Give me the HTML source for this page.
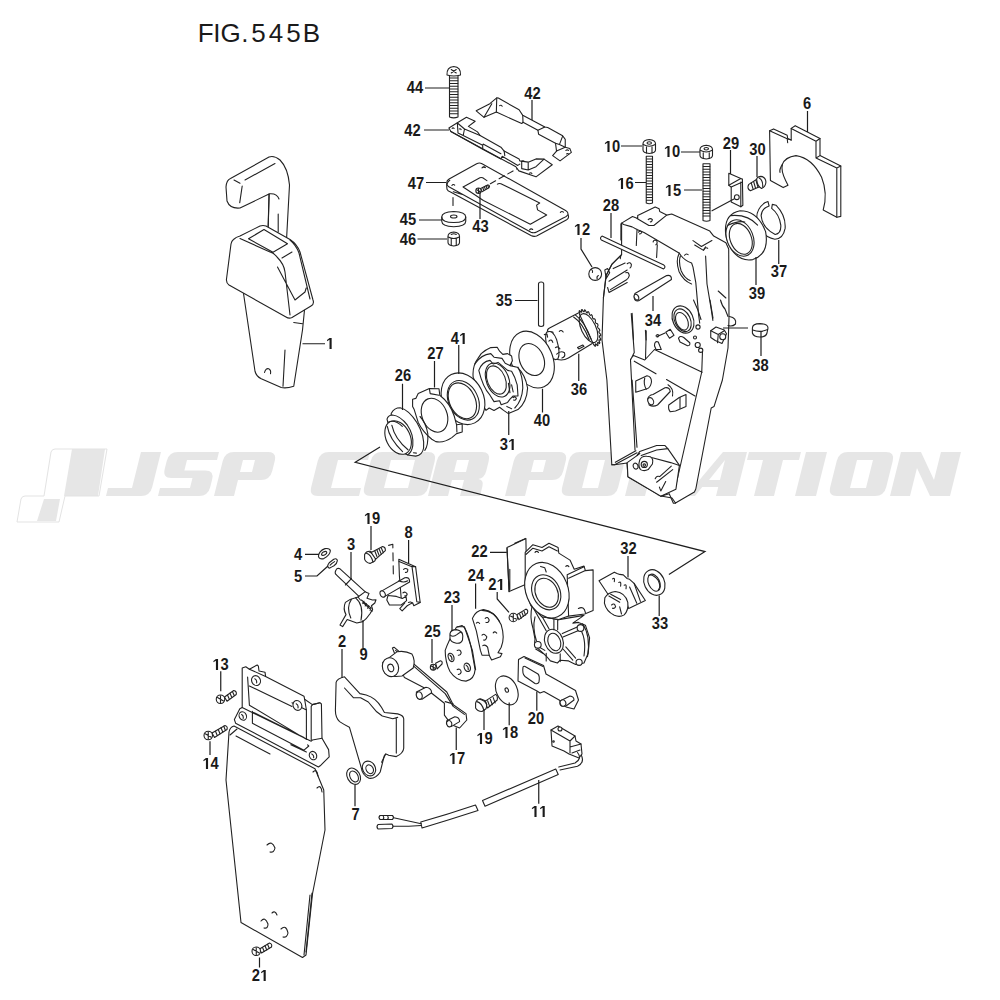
<!DOCTYPE html>
<html><head><meta charset="utf-8"><style>
html,body{margin:0;padding:0;background:#fff;width:1000px;height:1000px;overflow:hidden}
svg{display:block}
.d path,.d ellipse,.d circle,.d polyline,.d rect,.d line,.ln{vector-effect:non-scaling-stroke}
.d{fill:#fff;stroke:#222;stroke-width:1.1;stroke-linejoin:round;stroke-linecap:round}
.d .nf{fill:none}
.ln{fill:none;stroke:#1e1e1e;stroke-width:1.2}
.lbl path{fill:#1a1a1a;stroke:none}
.lbl text{font-family:"Liberation Sans",sans-serif;font-weight:bold;font-size:16px;fill:#1a1a1a;text-anchor:start}
.title{font-family:"Liberation Sans",sans-serif;font-size:26px;fill:#1a1a1a;}
</style></head><body>
<svg width="1000" height="1000" viewBox="0 0 1000 1000">
<text class="title" x="197.8 213.2 220.5 241.2 251.3 268.8 286.3 302.8" y="42">FIG.545B</text>
<g class="wm" fill="#e6e6e6" fill-rule="evenodd">
<path fill="#e6e6e6" d="M72,449 H105 L98,496 H64 Z M44,499 H60 L56,521 H37 Z"/><path fill="none" stroke="#e3e3e3" stroke-width="1" d="M55,449 H107 L99,496 H65 L59,522 H17 L21,499 Q22,496 25,496 H44 L51,452 Q52,449 55,449 Z"/>
<path transform="translate(106,496) skewX(-14)" d="M24,-44 H44 V-9 Q44,0 35,0 H0 V-8 H24 Z "/>
<path transform="translate(158,496) skewX(-14)" d="M9,-44 H50 V-36 H20 V-25.5 H41 Q50,-25.5 50,-16.5 V-9 Q50,0 41,0 H0 V-8 H30 V-18 H9 Q0,-18 0,-27 V-35 Q0,-44 9,-44 Z "/>
<path transform="translate(214,496) skewX(-14)" d="M0,0 V-35 Q0,-44 9,-44 H43 Q52,-44 52,-35 V-25 Q52,-16 43,-16 H20 V0 Z M20,-36H32V-24H20Z "/>
<path transform="translate(309,496) skewX(-14)" d="M9,-44 H50 V-36 H20 V-8 H50 V0 H9 Q0,0 0,-9 V-35 Q0,-44 9,-44 Z "/>
<path transform="translate(362,496) skewX(-14)" d="M9,-44 H55 Q64,-44 64,-35 V-9 Q64,0 55,0 H9 Q0,0 0,-9 V-35 Q0,-44 9,-44 Z M20,-36H44V-8H20Z "/>
<path transform="translate(428,496) skewX(-14)" d="M0,0 V-35 Q0,-44 9,-44 H43 Q52,-44 52,-35 V-25 Q52,-18 46,-17 Q52,-16 52,-10 V0 H32 V-16 H20 V0 Z M20,-36H32V-24H20Z "/>
<path transform="translate(505,496) skewX(-14)" d="M0,0 V-35 Q0,-44 9,-44 H43 Q52,-44 52,-35 V-25 Q52,-16 43,-16 H20 V0 Z M20,-36H32V-24H20Z "/>
<path transform="translate(560,496) skewX(-14)" d="M9,-44 H47 Q56,-44 56,-35 V-9 Q56,0 47,0 H9 Q0,0 0,-9 V-35 Q0,-44 9,-44 Z M20,-36H36V-8H20Z "/>
<path transform="translate(625,496) skewX(-14)" d="M0,0 V-35 Q0,-44 9,-44 H43 Q52,-44 52,-35 V-25 Q52,-18 46,-17 Q52,-16 52,-10 V0 H32 V-16 H20 V0 Z M20,-36H32V-24H20Z "/>
<path transform="translate(686,496) skewX(-14)" d="M0,0 L26,-44 H50 V0 H30 V-9 H14 L9,0 Z M30,-36 H30 L19,-16 H30 Z "/>
<path transform="translate(738,496) skewX(-14)" d="M0,-44 H52 V-36 H36.0 V0 H16.0 V-36 H0 Z "/>
<path transform="translate(795,496) skewX(-14)" d="M0,-44H21V0H0Z "/>
<path transform="translate(828,496) skewX(-14)" d="M9,-44 H47 Q56,-44 56,-35 V-9 Q56,0 47,0 H9 Q0,0 0,-9 V-35 Q0,-44 9,-44 Z M20,-36H36V-8H20Z "/>
<path transform="translate(890,496) skewX(-14)" d="M0,0 V-44 H20 L40,-16 V-44 H60 V0 H40 L20,-28 V0 Z "/>
</g>
<g class="d" transform="translate(210,140) scale(0.1)">
<path d="M205,385 L590,170 Q640,150 700,200 Q780,280 795,450 L765,1000 L580,1000 L582,860 L590,540 L300,680 Q200,690 170,610 L160,470 Q165,400 205,385 Z"/>
<path class="nf" d="M240,400 L300,432 M322,460 L297,628 M350,400 L650,235 M592,540 L582,860 M592,538 Q670,530 690,590 M682,740 L682,920"/>
</g>
<g class="d" transform="translate(200,140) scale(0.25)">
<path d="M172,600 L220,925 Q225,945 245,955 L325,990 Q345,995 375,985 L410,760 L418,680 Z"/>
<path class="nf" d="M375,730 L410,735 M340,840 L332,985 M258,930 Q262,912 275,915 Q285,920 282,935"/>
</g>
<g class="d" transform="translate(220,220) scale(0.1)">
<path d="M135,195 Q160,170 200,160 L400,60 Q430,50 460,60 L700,195 Q770,240 800,320 L930,800 Q945,840 910,860 L720,975 Q690,990 660,970 L90,650 Q60,630 65,590 L110,240 Q115,210 135,195 Z"/>
<path class="nf" d="M200,185 L500,320 Q540,330 570,370 Q640,440 650,520 L700,950 M285,188 L440,95 L675,238 L530,322 Z M700,200 Q760,250 790,330 L900,790 M575,470 L750,800 L850,720 L862,680 M620,380 L720,320"/>
</g>
<g class="d" transform="translate(440,155) scale(0.14)">
<path d="M48,225 L50,245 Q55,258 75,265 L650,575 Q670,585 690,578 L905,462 Q920,452 918,440 L915,425 Q915,405 900,398 L300,62 Q282,52 262,62 L65,172 Q47,182 48,200 Z"/>
<path class="nf" d="M50,208 Q55,188 70,180 M50,212 L60,225 L650,552 Q670,560 690,550 L880,450 Q905,440 912,428 M95,262 L160,282"/>
<path class="nf" d="M165,228 L285,162 Q295,158 305,163 L335,183 M410,208 Q420,200 435,205 L712,343 L690,358 L697,392 L762,428 L645,495 L310,325 L165,228"/>
<path class="nf" d="M85,218 Q95,205 105,215 M300,92 Q310,80 322,90 M860,410 Q870,398 882,408 M640,535 Q650,522 662,532"/>
<path class="nf" style="stroke-dasharray:6 4" d="M360,205 L585,78"/>
<path d="M290,240 L340,215 Q352,212 354,225 Q352,236 340,240 L300,262 Z"/>
<path class="nf" d="M305,232 L312,252 M317,226 L324,246 M329,220 L336,240 M341,216 L348,236"/>
<circle cx="275" cy="255" r="19"/>
<path class="nf" d="M262,248 L288,262 M275,240 L275,270"/>
</g>
<g class="d" transform="translate(445,90) scale(0.13)">
<path d="M240,160 L345,105 L398,60 L410,62 L570,152 L598,195 L768,285 L790,288 L905,352 L925,380 L925,440 L960,450 L972,480 L885,545 L828,505 L858,470 L850,410 L720,340 L715,310 L600,248 L590,258 L395,170 L300,210 Z"/>
<path class="nf" d="M398,62 L395,170 M300,210 L360,105 M905,355 L880,420 L850,410 M925,440 L858,470 M880,420 L925,440 M600,248 L598,195 M715,310 L768,285"/>
<path class="nf" d="M420,120 Q432,112 440,125 M930,465 Q940,455 950,465 M935,492 Q944,484 952,494"/>
<path d="M30,292 L95,252 L165,210 L232,240 L180,280 L250,322 L270,350 L430,440 L455,470 L570,530 L575,545 L640,555 L700,530 L762,532 L825,575 L700,668 L568,622 L545,590 L45,320 Z"/>
<path class="nf" d="M95,255 L100,330 L140,350 L150,300 L100,258 M150,300 L270,350 M140,350 L290,425 L295,415 M290,425 L290,455 L430,530 L440,510 L560,580 L575,570 M300,420 L430,490 M455,470 L460,505 M590,550 L590,605 L640,615 L640,560 M640,615 L700,590 L762,532 M45,320 L290,455"/>
<path class="nf" d="M55,295 Q62,288 70,296 M110,300 Q118,295 124,305 M290,595 Q300,585 310,595 M650,640 Q660,632 668,642 M590,550 Q600,540 610,550"/>
</g>
<g class="d" transform="translate(400,50) scale(0.25)">
<path d="M198,100 L232,100 L232,268 Q215,275 198,268 Z"/>
<path class="nf" d="M199,112H231M199,123H231M199,134H231M199,145H231M199,156H231M199,167H231M199,178H231M199,189H231M199,200H231M199,211H231M199,222H231M199,233H231M199,244H231M199,255H231"/>
<path d="M188,100 Q186,68 215,66 Q244,68 242,100 Q215,108 188,100 Z"/>
<path class="nf" d="M205,78 L225,92 M225,78 L205,92"/>
<path class="nf" style="stroke-dasharray:8 6" d="M212,590 L212,650"/>
<path d="M167,668 Q167,648 215,646 Q263,648 263,668 L263,685 Q263,705 215,707 Q167,705 167,685 Z"/>
<path class="nf" d="M167,668 Q167,690 215,690 Q263,690 263,668"/>
<ellipse cx="215" cy="666" rx="13" ry="6"/>
<path d="M192,745 Q192,730 215,728 Q238,730 238,745 L238,770 Q238,782 215,784 Q192,782 192,770 Z"/>
<path class="nf" d="M193,748 Q215,760 237,748 M205,755 L205,782 M225,755 L225,782 M205,738 Q215,732 225,738"/>
</g>
<g class="d">
<path d="M621.6,223.1 L632.5,216.5 L637.7,218.5 L637.7,215.4 L655.2,207 L659.1,208.7 L659.7,211.5 L666.7,215.1 L671.7,214 L709.8,231.1 L713.7,236.1 L725.9,242.7 L728.7,249 L729,318 L728,348 L722.4,380 L714,406.6 L711.2,408 L695.8,489 L694.4,492 L675.5,503 L672,498 L661,496 L628,477 L627,463 L614.6,464.7 L611.8,464.7 L606.9,380 L602,340 L603.4,298 L606,275.6 L611.8,264.4 L621.6,254.6 Z"/>
</g>
<g class="d" transform="translate(595,200) scale(0.14)">
<path class="nf" d="M190,165 L205,175 L265,192 L300,210 L350,232 L600,378 M185,170 L185,285 M300,210 L295,325 M445,320 L440,410 M300,132 L385,182 L420,182 L510,110 M380,140 Q395,125 410,140 Q405,160 395,155"/>
<path class="nf" d="M700,290 L760,332 L835,290 M712,322 L775,360 L790,335 M790,400 L800,600 L830,780 L842,860 M600,378 L615,398 Q640,430 690,450 L700,480 L720,590 L740,820 L748,880"/>
<path class="nf" d="M600,385 Q575,430 600,510 Q630,575 690,600 M610,400 Q595,440 615,505 Q640,560 680,575 M880,650 L935,700 M310,230 Q320,215 335,228 Q330,245 318,242 M415,300 Q420,280 440,290 Q450,310 435,320 M640,395 Q650,380 665,390 M780,350 Q790,335 805,345"/>
<path d="M50,258 L492,465 Q508,478 490,492 L45,285 Q32,270 50,258 Z"/>
<path d="M285,668 L512,540 Q548,532 546,568 L312,720 Q278,725 280,690 Z"/>
<ellipse cx="296" cy="694" rx="15" ry="22" transform="rotate(-30 296 694)"/>
<path class="nf" d="M190,390 L120,460 L80,540 L60,700 M185,395 L180,420 M70,500 L90,490 L105,520 L80,560 Z M100,580 L230,500 M220,520 Q240,510 245,540 Q240,560 225,570 L110,640 M90,625 L100,660 L230,590 M130,490 L215,450 M230,455 Q250,440 260,460 Q260,480 250,485 M265,810 L275,1000 M360,930 L365,1000"/>
</g>
<g class="d" transform="translate(590,300) scale(0.15)">
<path class="nf" d="M275,90 L295,350 L270,400 L300,1000 M375,205 L370,395 M270,395 L290,370 L365,400 L430,330 L748,482 M295,408 L440,492 M510,530 L700,640 M750,340 L745,480 L567,1260"/>
<path class="nf" d="M690,0 Q720,60 740,130 M800,0 L820,120 M870,0 Q880,40 900,60 L920,110 M930,110 Q980,120 970,160 Q950,180 920,170"/>
<ellipse cx="620" cy="130" rx="68" ry="95" transform="rotate(-25 620 130)"/>
<ellipse cx="617" cy="135" rx="52" ry="80" transform="rotate(-25 617 135)" class="nf"/>
<ellipse cx="613" cy="142" rx="38" ry="62" transform="rotate(-25 613 142)"/>
<path d="M505,215 L535,195 L560,235 L530,255 Z"/>
<path d="M590,255 Q600,235 625,250 L665,285 Q670,305 650,305 L600,280 Z"/>
<path d="M430,305 Q430,270 455,280 L475,330 L440,330 Z"/>
<circle cx="720" cy="180" r="14"/><circle cx="718" cy="300" r="17"/><circle cx="738" cy="335" r="14"/><circle cx="700" cy="250" r="10"/>
<path class="nf" d="M440,240 Q445,225 460,235 Q455,250 445,245 L500,220"/>
<path d="M805,205 L840,180 L895,200 L910,225 L880,290 L835,270 L805,250 Z"/>
<path class="nf" d="M805,205 L855,230 L895,205 M855,230 L850,285"/>
<circle cx="885" cy="245" r="20"/>
<path d="M305,540 L380,505 Q410,510 410,545 Q405,580 385,590 L305,615 Z"/>
<path class="nf" d="M365,520 Q355,560 375,595"/>
<path d="M385,660 Q390,635 420,630 L500,585 Q530,580 535,610 L450,700 Q420,715 395,700 Z"/>
<ellipse cx="405" cy="675" rx="18" ry="25" transform="rotate(-25 405 675)"/>
<path class="nf" d="M520,565 Q560,590 550,640"/>
<path d="M525,700 L595,650 L640,630 L640,710 L570,740 L535,745 Q520,730 525,700 Z"/>
<path class="nf" d="M600,650 L600,722"/>
</g>
<g class="d" transform="translate(595,380) scale(0.14)">
<path class="nf" d="M265,0 L300,480"/>
<path d="M230,590 L300,540 L320,510 L440,468 L500,468 L520,490 L603,610 L578,780 L470,830 L235,690 Z"/>
<path class="nf" d="M300,540 L320,525 M410,555 L540,590 L603,610 M520,490 L440,500 L330,540"/>
<path d="M320,570 Q335,540 370,545 L395,548 Q420,560 410,600 L380,640 Q350,655 325,640 Q305,615 320,570 Z"/>
<circle cx="352" cy="603" r="22"/><circle cx="352" cy="608" r="9"/>
<ellipse cx="290" cy="615" rx="17" ry="22" transform="rotate(-20 290 615)"/>
<path class="nf" d="M430,705 Q440,680 462,690 L545,615 M440,730 L555,640 M460,765 L470,792 L505,725 M470,830 L530,812 L560,880 L575,880"/>
<path class="nf" d="M120,605 L140,605 L300,520 M145,588 L292,505"/>
</g>
<g class="d" transform="translate(600,50) scale(0.25)">
<path d="M185,425 L210,425 L210,612 Q197,618 185,612 Z"/>
<path class="nf" d="M186,436H209M186,447H209M186,458H209M186,469H209M186,480H209M186,491H209M186,502H209M186,513H209M186,524H209M186,535H209M186,546H209M186,557H209M186,568H209M186,579H209M186,590H209M186,601H209"/>
<path d="M172,375 Q172,360 197,358 Q222,360 222,375 L222,400 Q222,412 197,414 Q172,412 172,400 Z"/>
<path class="nf" d="M173,378 Q197,392 221,378 M186,388 L186,412 M208,388 L208,412"/>
<ellipse cx="197" cy="372" rx="9" ry="5"/>
<path d="M412,455 L440,455 L440,682 Q426,688 412,682 Z"/>
<path class="nf" d="M413,466H439M413,477H439M413,488H439M413,499H439M413,510H439M413,521H439M413,532H439M413,543H439M413,554H439M413,565H439M413,576H439M413,587H439M413,598H439M413,609H439M413,620H439M413,631H439M413,642H439M413,653H439M413,664H439"/>
<path d="M400,398 Q400,383 425,381 Q450,383 450,398 L450,422 Q450,434 425,436 Q400,434 400,422 Z"/>
<path class="nf" d="M401,401 Q425,415 449,401 M413,411 L413,434 M437,411 L437,434"/>
<ellipse cx="425" cy="395" rx="9" ry="5"/>
</g>
<g class="d" transform="translate(700,110) scale(0.16)">
<path d="M435,130 L460,118 L545,158 L548,178 L570,188 L570,115 L595,98 L750,178 L750,285 L880,350 L880,665 L855,670 L770,625 Q800,520 760,420 Q700,300 600,285 Q530,295 515,340 Q505,380 535,440 L550,470 L520,485 L440,440 Z"/>
<path class="nf" d="M435,130 L545,180 L548,205 M570,115 L725,195 L725,300 L855,362 L855,670 M855,362 L880,350 M725,195 L750,178 M725,300 L750,285 M515,340 Q495,370 500,390 M545,180 L570,188"/>
<path d="M180,395 L255,428 L265,432 L268,595 L255,605 L195,575 L195,482 L180,470 Z"/>
<path class="nf" d="M180,470 L255,428 M195,482 L265,450 M255,450 L255,605"/>
<circle cx="230" cy="545" r="15"/>
<path class="nf" d="M75,630 L212,556"/>
<path d="M360,430 L305,465 Q290,490 315,505 L375,478 Z"/>
<path class="nf" d="M320,455 L332,495 M335,447 L347,488 M350,440 L362,482"/>
<path d="M355,440 Q350,418 380,415 Q410,418 412,450 Q410,480 385,490 Q360,480 355,440 Z"/>
<path class="nf" d="M370,425 Q395,440 392,480"/>
<path d="M405,580 L425,572 L432,600 Q385,615 382,660 Q390,740 470,778 Q508,772 505,720 Q495,650 448,615 L452,590 L475,595 Q538,660 532,740 Q520,805 468,808 Q378,792 355,682 Q350,620 405,580 Z"/>
<path d="M160,770 Q150,650 250,630 Q360,630 410,760 Q435,900 330,935 Q250,950 195,870 Q165,820 160,770 Z"/>
<ellipse cx="250" cy="800" rx="82" ry="118" transform="rotate(-22 250 800)"/>
<ellipse cx="255" cy="805" rx="66" ry="100" transform="rotate(-22 255 805)"/>
<path class="nf" d="M190,660 Q300,650 360,720 M175,720 Q240,690 280,700"/>
</g>
<g class="d" transform="translate(580,190) scale(0.2)">
<circle cx="76" cy="420" r="32"/>
<path class="nf" d="M58,398 Q66,405 62,412 M86,445 Q82,432 92,428"/>
<path d="M862,690 Q862,668 900,668 Q940,670 940,690 L935,715 Q930,735 900,735 Q868,735 862,715 Z"/>
<path class="nf" d="M864,700 Q900,715 938,698"/>
</g>
<g class="d" transform="translate(480,280) scale(0.13)">
<path d="M450,30 Q450,15 470,15 Q490,15 490,30 L490,345 Q490,358 470,358 Q450,358 450,345 Z"/>
<path d="M560,400 Q590,520 560,600 Q630,630 680,600 L860,490 Q920,440 880,330 Q840,240 775,245 L535,370 Q515,380 520,395 Z"/>
<path d="M765,263 L768,258 L762,240 L766,236 L778,248 L783,246 L780,229 L786,228 L797,244 L802,244 L804,229 L810,232 L819,250 L825,253 L830,242 L837,247 L843,266 L849,272 L857,266 L863,274 L866,292 L872,299 L882,299 L888,308 L887,323 L892,332 L904,337 L908,348 L904,359 L907,368 L919,379 L922,389 L915,396 L916,405 L928,419 L929,429 L919,430 L919,438 L929,455 L928,463 L916,459 L915,465 L922,483 L919,489 L907,479 L904,483 L908,502 L903,505 L891,491 L887,492 L888,509 L882,508 L871,491 Z"/>
<ellipse cx="835" cy="370" rx="56" ry="120" transform="rotate(-25 835 370)" class="nf"/>
<path class="nf" d="M720,285 Q790,330 840,460 M735,270 Q805,320 855,455"/>
<path d="M515,400 Q560,380 590,460 Q620,560 600,605 Q575,625 545,590 Q510,530 505,450 Q505,410 515,400 Z"/>
<path class="nf" d="M495,420 L515,415 L520,440 M530,470 Q550,450 560,480 M580,520 Q600,505 615,530 M590,570 Q620,540 650,560 Q660,590 630,600 M750,520 L790,500 L800,510 L760,530 Z M610,395 Q625,380 640,400"/>
<ellipse cx="400" cy="612" rx="158" ry="228" transform="rotate(-24 400 612)"/>
<ellipse cx="398" cy="612" rx="92" ry="128" transform="rotate(-24 398 612)"/>
</g>
<g class="d" transform="translate(375,320) scale(0.16)">
</g>
<g class="d" transform="translate(470,340) scale(0.08)">
<path d="M40,470 Q25,330 100,230 L140,170 Q200,120 260,95 L340,90 L370,140 L410,180 L470,170 L520,200 L530,260 L500,320 L590,340 Q690,430 720,600 Q710,780 600,870 L480,920 L420,880 L370,840 L300,880 L240,850 L200,880 Q130,780 110,620 Z"/>
<path class="nf" d="M60,300 Q140,180 260,170 L300,215 L400,230 L440,290 L500,320 M110,380 Q150,270 250,255 L290,300 L350,280 L400,320 L470,380 L520,390 L560,470 L590,560 L600,700 L540,700 L500,740 L470,780 L390,810 L370,760 L300,770 L250,690 Q160,590 110,380 M600,340 Q660,450 660,600 Q650,760 560,850 M480,540 L500,660 M520,560 L540,650 M540,720 Q560,700 580,730 Q570,760 545,750 M460,830 L520,860"/>
<ellipse cx="330" cy="500" rx="112" ry="185" transform="rotate(-22 330 500)"/>
<ellipse cx="345" cy="500" rx="140" ry="222" transform="rotate(-22 345 500)" class="nf"/>
</g>
<g class="d" transform="translate(375,320) scale(0.16)">
<path d="M820,90 Q870,70 940,105 Q1000,150 1000,200 L1000,650 Q960,600 920,520 L870,300 Q840,200 820,150 Z" style="display:none"/>
<ellipse cx="550" cy="492" rx="128" ry="168" transform="rotate(-26 550 492)"/>
<ellipse cx="546" cy="505" rx="80" ry="118" transform="rotate(-26 546 505)"/>
<ellipse cx="552" cy="502" rx="92" ry="130" transform="rotate(-26 552 502)" class="nf"/>
<path d="M235,495 L255,490 L270,460 L340,428 L400,430 L405,470 Q470,520 495,600 L510,655 L545,650 L545,700 L510,710 L480,735 Q430,770 380,760 L355,745 Q300,700 270,640 L245,560 L235,540 Z"/>
<path class="nf" d="M340,430 L345,460 L400,470 M510,655 L512,700"/>
<ellipse cx="372" cy="595" rx="78" ry="110" transform="rotate(-22 372 595)"/>
</g>
<g class="d" transform="translate(375,400) scale(0.06)">
<path d="M270,225 Q320,130 420,130 Q560,160 700,380 Q830,600 810,800 Q790,920 680,935 L600,925 Q520,920 470,870 L300,650 Z"/>
<path class="nf" d="M750,275 Q850,380 880,560 Q890,760 830,840"/>
<path d="M200,320 Q220,250 290,250 Q420,260 540,420 Q650,580 630,760 Q610,880 540,915 L300,700 Z"/>
<ellipse cx="385" cy="625" rx="200" ry="295" transform="rotate(-26 385 625)"/>
<path class="nf" d="M205,440 Q240,650 460,860 M280,420 Q330,650 550,830 M220,370 Q330,320 455,440 M640,880 L690,885"/>
</g>
<g class="d" transform="translate(310,540) scale(0.12)">
<path d="M70,135 Q75,90 125,72 Q165,65 170,90 Q165,130 115,155 Q75,165 70,135 Z"/>
<ellipse cx="118" cy="112" rx="24" ry="13" transform="rotate(-30 118 112)"/>
<path d="M155,232 Q138,215 160,190 L198,160 Q225,150 228,172 Q226,196 200,214 L178,226 Q165,238 155,232 Z"/>
<path class="nf" d="M168,210 Q180,195 205,180"/>
<path d="M215,255 Q225,228 250,240 L470,440 L430,490 L222,292 Q202,280 215,255 Z"/>
<path class="nf" d="M295,375 L345,322"/>
<path d="M295,520 Q340,488 400,475 L458,432 L492,445 L475,485 L520,500 L550,498 L540,525 L512,548 L522,578 L500,615 Q470,660 440,680 L390,692 L310,662 L272,722 L250,708 L300,622 Q272,572 295,520 Z"/>
<path class="nf" d="M345,495 Q300,560 340,650 M380,482 Q450,540 425,668 M440,520 L520,592 M428,500 L508,566 M450,510 L440,530 M470,530 L460,550 M490,548 L480,568 M510,566 L500,585 M400,475 L420,500"/>
<path d="M455,120 Q470,90 505,95 L540,120 Q555,150 540,175 L500,195 Q465,190 455,160 Z"/>
<path class="nf" d="M470,110 Q510,120 525,185 M495,100 Q530,112 548,140"/>
<path d="M510,105 L605,55 Q630,58 628,88 L548,160 Z"/>
<path class="nf" d="M540,92 L558,138 M558,84 L576,128 M576,75 L594,118 M594,66 L612,106"/>
<path class="nf" style="stroke-dasharray:8 5" d="M655,45 L690,35 L695,315"/>
<path d="M740,160 L880,222 L918,520 L865,548 L855,522 L810,548 L768,590 L748,572 L790,525 L760,485 L745,300 Z"/>
<path class="nf" d="M742,180 L850,222 L880,222 M850,222 L890,515 L918,520"/>
<path class="nf" d="M780,245 Q795,230 815,245 Q815,275 795,270 M775,440 Q795,425 810,450 Q805,470 790,465 M820,520 Q845,510 850,530"/>
<path d="M650,462 L720,470 L770,488 L800,470 L805,505 L760,542 L662,542 L640,500 Z"/>
<path d="M592,428 L790,315 Q832,305 830,350 L620,472 Q586,476 592,428 Z"/>
<ellipse cx="605" cy="450" rx="20" ry="28" transform="rotate(-30 605 450)"/>
<path class="nf" d="M740,340 Q780,360 815,340"/>
</g>
<g class="d" transform="translate(500,530) scale(0.14)">
<path d="M50,125 L185,60 L190,385 L65,440 Z"/>
<path class="nf" d="M105,95 L180,62 M70,280 L70,425 M50,130 L65,440"/>
<path d="M230,540 Q210,620 235,700 L250,780 Q240,830 270,845 L330,900 L360,935 L410,950 L430,930 L490,935 L540,960 L600,950 L630,880 L640,770 L610,680 L560,660 L520,665 L600,610 L420,640 L300,620 Z"/>
<ellipse cx="385" cy="795" rx="65" ry="88" transform="rotate(-20 385 795)"/>
<ellipse cx="388" cy="800" rx="44" ry="64" transform="rotate(-20 388 800)"/>
<path class="nf" d="M240,560 L330,720 M265,555 L350,705 M385,640 L385,712 M412,640 L412,712 M445,740 L560,690 M450,765 L570,715 M320,860 L270,830 M305,880 L255,850 M450,850 L520,930 M470,835 L540,915 M330,880 L330,935 M430,885 L430,940 M560,690 Q620,760 600,900 M590,670 Q650,760 625,905 M250,620 Q230,700 260,790"/>
<circle cx="270" cy="820" r="24"/><circle cx="565" cy="945" r="22"/><circle cx="575" cy="700" r="24"/>
<path d="M180,300 L180,160 L235,105 L300,125 L350,95 L415,125 L420,165 L500,215 L530,280 L600,258 L610,290 L665,285 L665,575 L605,600 L490,615 L420,640 L300,620 L220,540 L180,420 Z"/>
<path class="nf" d="M185,175 L235,130 L300,150 L350,120 L410,150 M480,320 L490,612 M480,320 L600,262 M610,290 L490,345 M250,160 Q260,145 275,160 M470,260 Q480,248 492,262"/>
<ellipse cx="335" cy="430" rx="150" ry="205" transform="rotate(-22 335 430)"/>
<ellipse cx="330" cy="445" rx="98" ry="130" transform="rotate(-25 330 445)"/>
<ellipse cx="333" cy="448" rx="78" ry="108" transform="rotate(-25 333 448)"/>
<path class="nf" d="M290,260 L320,270 L330,300 M560,560 Q600,540 610,590"/>
<path d="M120,605 L185,565 Q205,570 195,595 L135,640 Z"/>
<path class="nf" d="M140,600 L152,630 M157,590 L168,618 M172,580 L183,608"/>
<circle cx="95" cy="625" r="30"/>
<path class="nf" d="M75,615 L115,635 M95,600 L95,650"/>
</g>
<g class="d" transform="translate(590,560) scale(0.09)">
<path d="M100,230 L270,135 L300,150 L330,160 L370,165 L410,205 L440,215 L490,260 L615,450 L430,540 Q400,420 300,360 L200,380 Z"/>
<path class="nf" d="M250,210 Q280,190 270,240 M320,250 Q350,230 340,290 M380,280 Q410,260 400,320 M440,300 L520,480 M490,260 L560,460"/>
<path d="M165,420 Q200,360 280,350 Q390,360 420,470 Q430,560 380,610 Q330,640 270,615 Q180,570 160,480 Z"/>
<path class="nf" d="M210,400 L330,470 M230,380 L340,440 M240,500 Q270,470 285,520 Q270,545 250,535 M330,520 L350,600"/>
<ellipse cx="715" cy="250" rx="112" ry="148" transform="rotate(-25 715 250)"/>
<ellipse cx="712" cy="252" rx="62" ry="100" transform="rotate(-25 712 252)"/>
<path class="nf" d="M650,170 Q700,150 760,230 Q790,300 760,330"/>
</g>
<g class="d" transform="translate(370,580) scale(0.16)">
<path d="M640,240 Q660,190 710,185 Q780,195 820,280 Q845,360 820,420 L800,455 L825,460 L815,480 L760,500 L745,470 L700,470 L690,440 L665,320 Z"/>
<path class="nf" d="M700,190 Q770,190 810,260 M720,240 Q735,225 745,250 Q740,270 725,265 M700,345 Q715,330 730,355 Q725,380 710,375 M665,270 Q675,258 685,272 M770,330 Q780,318 792,332 M705,410 Q720,400 735,420 L745,470"/>
<path d="M470,440 Q490,380 540,295 L575,285 Q605,300 632,420 L657,560 Q652,622 600,632 Q540,632 500,572 Q470,512 470,440 Z"/>
<path class="nf" d="M545,292 L590,292 L640,440 L660,560"/>
<ellipse cx="507" cy="484" rx="17" ry="27" transform="rotate(-20 507 484)"/>
<ellipse cx="608" cy="546" rx="19" ry="27" transform="rotate(-20 608 546)"/>
<path class="nf" d="M500,470 Q515,480 512,500 M600,532 Q617,542 614,562 M545,440 Q565,430 570,455 Q566,472 552,470 M545,560 Q565,550 570,575 Q566,592 552,590"/>
<path d="M500,335 Q505,310 540,310 Q580,318 580,350 L578,375 Q570,398 540,395 Q505,390 500,365 Z"/>
<path class="nf" d="M502,345 Q520,360 545,340 Q565,320 575,330"/>
<path d="M410,520 L440,505 Q455,508 450,525 L420,555 Z"/>
<circle cx="395" cy="545" r="18"/>
<path class="nf" d="M383,538 L407,552 M395,530 L395,560"/>
<path d="M140,425 L150,420 L480,700 L520,780 L600,835 L605,875 L560,925 L510,905 L465,845 L465,770 L350,680 L215,610 Z"/>
<path class="nf" d="M160,440 L470,710 L520,790 L590,840 M470,760 L520,775"/>
<path d="M80,515 L170,448 Q220,440 262,462 Q285,500 270,550 L200,600 Q130,610 95,585 Q75,555 80,515 Z"/>
<ellipse cx="128" cy="545" rx="50" ry="60" transform="rotate(-20 128 545)"/>
<ellipse cx="130" cy="550" rx="18" ry="24" transform="rotate(-20 130 550)"/>
<path d="M290,700 L350,670 Q385,675 385,705 L325,745 Q295,745 290,720 Z"/>
<ellipse cx="308" cy="722" rx="18" ry="24" transform="rotate(-20 308 722)"/>
<path d="M480,880 L530,855 Q560,858 560,885 L510,915 Q482,915 480,895 Z"/>
<ellipse cx="495" cy="898" rx="16" ry="20" transform="rotate(-20 495 898)"/>
<ellipse cx="855" cy="690" rx="65" ry="95" transform="rotate(-25 855 690)"/>
<ellipse cx="855" cy="688" rx="10" ry="14" transform="rotate(-25 855 688)"/>
<path d="M715,760 L785,715 Q800,725 795,750 L735,800 Z"/>
<path class="nf" d="M735,755 L748,790 M752,745 L765,780 M770,735 L782,768"/>
<path d="M660,770 Q665,745 690,742 L720,755 Q735,780 725,805 L700,822 Q670,820 660,800 Z"/>
<path class="nf" d="M668,760 Q700,768 712,815 M685,745 Q718,752 730,780"/>
</g>
<g class="d" transform="translate(320,660) scale(0.14)">
<path d="M115,160 Q120,135 175,120 L285,240 L330,250 Q400,270 440,340 L460,375 L555,385 Q595,395 598,420 L598,630 Q595,665 545,690 L490,680 Q460,660 455,700 L430,800 Q400,850 350,845 Q300,820 295,770 L210,480 Q170,460 140,440 Q110,410 110,360 Z"/>
<path class="nf" d="M175,200 L240,270 L290,270 L345,300 L405,370 L445,400 L520,420 L555,410 M545,420 L545,665 M440,730 L470,670"/>
<ellipse cx="350" cy="775" rx="45" ry="55" transform="rotate(-30 350 775)"/>
<ellipse cx="355" cy="780" rx="25" ry="33" transform="rotate(-30 355 780)"/>
<ellipse cx="240" cy="830" rx="45" ry="62" transform="rotate(-30 240 830)"/>
<ellipse cx="243" cy="832" rx="28" ry="42" transform="rotate(-30 243 832)"/>
</g>
<g class="d" transform="translate(510,660) scale(0.1)">
<path d="M140,-35 L335,55 L360,140 L655,305 L685,400 L640,490 L560,470 L500,405 L340,315 L300,330 L270,310 L80,210 L85,-5 Z"/>
<path class="nf" d="M150,-20 L330,65 M130,70 Q140,55 160,70 L280,140 Q300,160 290,220 Q280,245 250,235 L150,165 Q120,140 130,70 Z"/>
<path d="M500,410 L600,360 Q640,365 640,400 L560,460 Q510,470 500,440 Z"/>
<ellipse cx="530" cy="430" rx="28" ry="32" transform="rotate(-20 530 430)"/>
<path d="M410,700 L480,660 L650,760 L660,810 L710,840 L720,940 L690,980 L590,940 L540,910 L420,860 Z"/>
<path class="nf" d="M410,700 L600,810 L650,760 M600,810 L600,930 M600,870 L710,840 M620,930 L700,900"/>
<circle cx="500" cy="690" r="20"/>
<circle cx="435" cy="815" r="8"/>
</g>
<g class="d">
<path d="M234,726 L315,768.75 L323.75,790 L325,830 L312.5,893.75 L306,955 L302.5,957.5 L241,922.5 L226,780 L229,732 Q230,727 234,726 Z"/>
<path class="nf" d="M230,735 L237,729 M312,893 L306,952 M310,895 L304,955 M236,736 L270,754"/>
<path class="nf" d="M313,772 Q317,768 318,776 M317,788 Q321,784 322,792 M267,845 Q272,840 275,848 Q274,853 270,852 M261,921 Q265,916 268,924 Q268,929 264,928 M281,929 Q286,924 288,933 Q287,938 283,937 M272,913 Q275,910 277,915"/>
</g>
<g class="d" transform="translate(220,650) scale(0.12)">
<path d="M185,150 L215,140 L245,160 L310,125 L320,135 L325,175 L375,185 L380,220 L700,385 L705,410 L770,455 L835,440 L845,450 L850,735 L905,830 L910,890 L835,965 L820,975 L130,610 L120,580 L165,490 L185,480 Z"/>
<path class="nf" d="M185,480 L760,760 L770,750 M230,225 L245,460 L720,745 L720,500 L600,440 M245,300 L600,470 M380,220 L245,160 M705,410 L720,500 M760,470 L760,745 M770,455 L760,470 M770,750 L850,735 M270,510 L270,610 L700,835 L740,800 L730,790 M280,520 L700,730 M590,790 L720,850 M770,455 L830,440"/>
<ellipse cx="300" cy="255" rx="36" ry="42" transform="rotate(-25 300 255)"/>
<ellipse cx="645" cy="462" rx="36" ry="42" transform="rotate(-25 645 462)"/>
<ellipse cx="190" cy="550" rx="30" ry="36" transform="rotate(-25 190 550)"/>
<ellipse cx="775" cy="880" rx="30" ry="36" transform="rotate(-25 775 880)"/>
<path class="nf" d="M290,240 Q310,250 305,275 M635,448 Q655,458 650,482 M180,538 Q198,548 193,570 M765,866 Q785,876 780,898"/>
</g>
<g class="d" transform="translate(180,640) scale(0.25)">
<path d="M178,228 L215,202 Q228,205 225,218 L188,245 Z"/>
<path class="nf" d="M190,220 L197,236 M200,213 L207,229 M210,207 L217,222"/>
<circle cx="162" cy="237" r="17"/>
<path class="nf" d="M150,230 L174,244 M162,223 L162,251"/>
<path d="M128,372 L180,342 Q192,345 188,358 L138,390 Z"/>
<path class="nf" d="M142,365 L149,382 M153,358 L160,375 M164,351 L171,368 M175,345 L181,360"/>
<circle cx="113" cy="382" r="17"/>
<path class="nf" d="M101,375 L125,389 M113,368 L113,396"/>
</g>
<g class="d" transform="translate(180,750) scale(0.25)">
<path d="M318,796 L358,772 Q370,775 366,788 L326,812 Z"/>
<path class="nf" d="M330,790 L337,806 M340,783 L347,800 M350,777 L357,793"/>
<circle cx="305" cy="805" r="17"/>
<path class="nf" d="M293,798 L317,812 M305,791 L305,819"/>
</g>
<g class="d" transform="translate(360,700) scale(0.25)">
<path class="nf" d="M885,220 Q900,250 870,265 L800,280 M870,210 Q890,235 860,252 L795,268"/>
<path d="M243,488 Q350,458 462,420 L472,442 Q355,480 248,512 Z"/>
<path d="M490,402 L783,276 L793,298 L500,425 Z"/>
<path class="nf" d="M245,495 L185,482 L130,470 M245,502 L195,505 L130,505"/>
<path d="M80,462 L130,462 Q138,470 130,478 L80,478 Q72,470 80,462 Z"/>
<path class="nf" d="M92,462 Q98,470 92,478 M110,462 Q116,470 110,478"/>
<path d="M72,498 L128,496 Q136,505 128,514 L72,516 Q64,507 72,498 Z"/>
</g>
<path class="ln" d="M425,88H449 M532,100V120 M424,130H449 M426,182.5H446 M419,220H442 M417.5,239H447 M480,192.5V219 M621,146H642 M681,152H700 M635,182.5H646 M684,190H702 M730.5,150V174 M757,156V177 M807.5,111V132 M611,213V238 M581,238V249L592,267 M778.75,240V264 M756,257V285 M515,300.5H537.5 M458.75,345V374 M434.5,361V387.5 M402.5,383.75V410 M578.75,353.75V381 M542.5,388.75V412.5 M508.75,411V435 M653,296V311 M761,332V356 M723,328H748 M371,526V550 M408.6,540V563 M351,552V579 M305,554.4H319 M305,576H317L328,566 M342,649V678 M363,620V648 M452,605V631 M432,639V663 M490,552.4H506.8 M475.6,583.6V608.8 M497.2,592V599L509,612.4 M628,556V577.6 M659.2,595.6V616 M536.8,691.6V710.8 M484,709.6V730 M509.2,702.4V725.2 M456.25,727.5V750 M538.75,780V803.75 M220.75,671.25V691.25 M210,741.25V755 M355,785V806.25 M259.5,957.5V967.5 M302.5,343.75H325 M380,447 L355.2,462.3 L705,551.6 L668.9,574.4"/>
<g class="lbl">
<text transform="translate(406.82,93) scale(0.92,1)">4</text>
<text transform="translate(415.00,93) scale(0.92,1)">4</text>
<text transform="translate(524.32,99) scale(0.92,1)">4</text>
<text transform="translate(532.50,99) scale(0.92,1)">2</text>
<text transform="translate(404.32,136) scale(0.92,1)">4</text>
<text transform="translate(412.50,136) scale(0.92,1)">2</text>
<text transform="translate(407.82,189) scale(0.92,1)">4</text>
<text transform="translate(416.00,189) scale(0.92,1)">7</text>
<text transform="translate(399.82,225) scale(0.92,1)">4</text>
<text transform="translate(408.00,225) scale(0.92,1)">5</text>
<text transform="translate(399.82,245) scale(0.92,1)">4</text>
<text transform="translate(408.00,245) scale(0.92,1)">6</text>
<text transform="translate(472.32,232) scale(0.92,1)">4</text>
<text transform="translate(480.50,232) scale(0.92,1)">3</text>
<path transform="translate(603.82,152) scale(0.0736,0.08)" d="M49,-138 H78 V0 H49 V-117 L15,-96 V-114 Z"/>
<text transform="translate(612.00,152) scale(0.92,1)">0</text>
<path transform="translate(663.82,157) scale(0.0736,0.08)" d="M49,-138 H78 V0 H49 V-117 L15,-96 V-114 Z"/>
<text transform="translate(672.00,157) scale(0.92,1)">0</text>
<path transform="translate(617.32,189) scale(0.0736,0.08)" d="M49,-138 H78 V0 H49 V-117 L15,-96 V-114 Z"/>
<text transform="translate(625.50,189) scale(0.92,1)">6</text>
<path transform="translate(664.82,196) scale(0.0736,0.08)" d="M49,-138 H78 V0 H49 V-117 L15,-96 V-114 Z"/>
<text transform="translate(673.00,196) scale(0.92,1)">5</text>
<text transform="translate(722.82,149) scale(0.92,1)">2</text>
<text transform="translate(731.00,149) scale(0.92,1)">9</text>
<text transform="translate(749.32,155) scale(0.92,1)">3</text>
<text transform="translate(757.50,155) scale(0.92,1)">0</text>
<text transform="translate(802.91,109) scale(0.92,1)">6</text>
<text transform="translate(602.82,211) scale(0.92,1)">2</text>
<text transform="translate(611.00,211) scale(0.92,1)">8</text>
<path transform="translate(573.82,235) scale(0.0736,0.08)" d="M49,-138 H78 V0 H49 V-117 L15,-96 V-114 Z"/>
<text transform="translate(582.00,235) scale(0.92,1)">2</text>
<text transform="translate(770.82,277) scale(0.92,1)">3</text>
<text transform="translate(779.00,277) scale(0.92,1)">7</text>
<text transform="translate(748.82,299) scale(0.92,1)">3</text>
<text transform="translate(757.00,299) scale(0.92,1)">9</text>
<text transform="translate(495.82,306) scale(0.92,1)">3</text>
<text transform="translate(504.00,306) scale(0.92,1)">5</text>
<text transform="translate(450.82,344) scale(0.92,1)">4</text>
<path transform="translate(459.00,344) scale(0.0736,0.08)" d="M49,-138 H78 V0 H49 V-117 L15,-96 V-114 Z"/>
<text transform="translate(427.32,359) scale(0.92,1)">2</text>
<text transform="translate(435.50,359) scale(0.92,1)">7</text>
<text transform="translate(394.82,381) scale(0.92,1)">2</text>
<text transform="translate(403.00,381) scale(0.92,1)">6</text>
<text transform="translate(570.82,395) scale(0.92,1)">3</text>
<text transform="translate(579.00,395) scale(0.92,1)">6</text>
<text transform="translate(533.82,426) scale(0.92,1)">4</text>
<text transform="translate(542.00,426) scale(0.92,1)">0</text>
<text transform="translate(499.82,450) scale(0.92,1)">3</text>
<path transform="translate(508.00,450) scale(0.0736,0.08)" d="M49,-138 H78 V0 H49 V-117 L15,-96 V-114 Z"/>
<text transform="translate(644.82,326) scale(0.92,1)">3</text>
<text transform="translate(653.00,326) scale(0.92,1)">4</text>
<text transform="translate(752.32,371) scale(0.92,1)">3</text>
<text transform="translate(760.50,371) scale(0.92,1)">8</text>
<path transform="translate(363.82,524) scale(0.0736,0.08)" d="M49,-138 H78 V0 H49 V-117 L15,-96 V-114 Z"/>
<text transform="translate(372.00,524) scale(0.92,1)">9</text>
<text transform="translate(404.41,538) scale(0.92,1)">8</text>
<text transform="translate(346.91,550) scale(0.92,1)">3</text>
<text transform="translate(293.91,560) scale(0.92,1)">4</text>
<text transform="translate(293.91,582) scale(0.92,1)">5</text>
<text transform="translate(337.91,647) scale(0.92,1)">2</text>
<text transform="translate(359.41,660) scale(0.92,1)">9</text>
<text transform="translate(443.82,603) scale(0.92,1)">2</text>
<text transform="translate(452.00,603) scale(0.92,1)">3</text>
<text transform="translate(424.32,637) scale(0.92,1)">2</text>
<text transform="translate(432.50,637) scale(0.92,1)">5</text>
<text transform="translate(471.32,557) scale(0.92,1)">2</text>
<text transform="translate(479.50,557) scale(0.92,1)">2</text>
<text transform="translate(467.82,581) scale(0.92,1)">2</text>
<text transform="translate(476.00,581) scale(0.92,1)">4</text>
<text transform="translate(488.32,590) scale(0.92,1)">2</text>
<path transform="translate(496.50,590) scale(0.0736,0.08)" d="M49,-138 H78 V0 H49 V-117 L15,-96 V-114 Z"/>
<text transform="translate(620.32,554) scale(0.92,1)">3</text>
<text transform="translate(628.50,554) scale(0.92,1)">2</text>
<text transform="translate(651.82,629) scale(0.92,1)">3</text>
<text transform="translate(660.00,629) scale(0.92,1)">3</text>
<text transform="translate(527.82,724) scale(0.92,1)">2</text>
<text transform="translate(536.00,724) scale(0.92,1)">0</text>
<path transform="translate(476.32,744) scale(0.0736,0.08)" d="M49,-138 H78 V0 H49 V-117 L15,-96 V-114 Z"/>
<text transform="translate(484.50,744) scale(0.92,1)">9</text>
<path transform="translate(501.82,738) scale(0.0736,0.08)" d="M49,-138 H78 V0 H49 V-117 L15,-96 V-114 Z"/>
<text transform="translate(510.00,738) scale(0.92,1)">8</text>
<path transform="translate(448.82,764) scale(0.0736,0.08)" d="M49,-138 H78 V0 H49 V-117 L15,-96 V-114 Z"/>
<text transform="translate(457.00,764) scale(0.92,1)">7</text>
<path transform="translate(530.82,817) scale(0.0736,0.08)" d="M49,-138 H78 V0 H49 V-117 L15,-96 V-114 Z"/>
<path transform="translate(539.00,817) scale(0.0736,0.08)" d="M49,-138 H78 V0 H49 V-117 L15,-96 V-114 Z"/>
<path transform="translate(212.32,670) scale(0.0736,0.08)" d="M49,-138 H78 V0 H49 V-117 L15,-96 V-114 Z"/>
<text transform="translate(220.50,670) scale(0.92,1)">3</text>
<path transform="translate(202.32,769) scale(0.0736,0.08)" d="M49,-138 H78 V0 H49 V-117 L15,-96 V-114 Z"/>
<text transform="translate(210.50,769) scale(0.92,1)">4</text>
<text transform="translate(351.41,820) scale(0.92,1)">7</text>
<text transform="translate(251.82,981) scale(0.92,1)">2</text>
<path transform="translate(260.00,981) scale(0.0736,0.08)" d="M49,-138 H78 V0 H49 V-117 L15,-96 V-114 Z"/>
<path transform="translate(325.91,349) scale(0.0736,0.08)" d="M49,-138 H78 V0 H49 V-117 L15,-96 V-114 Z"/>
</g>

</svg>
</body></html>
